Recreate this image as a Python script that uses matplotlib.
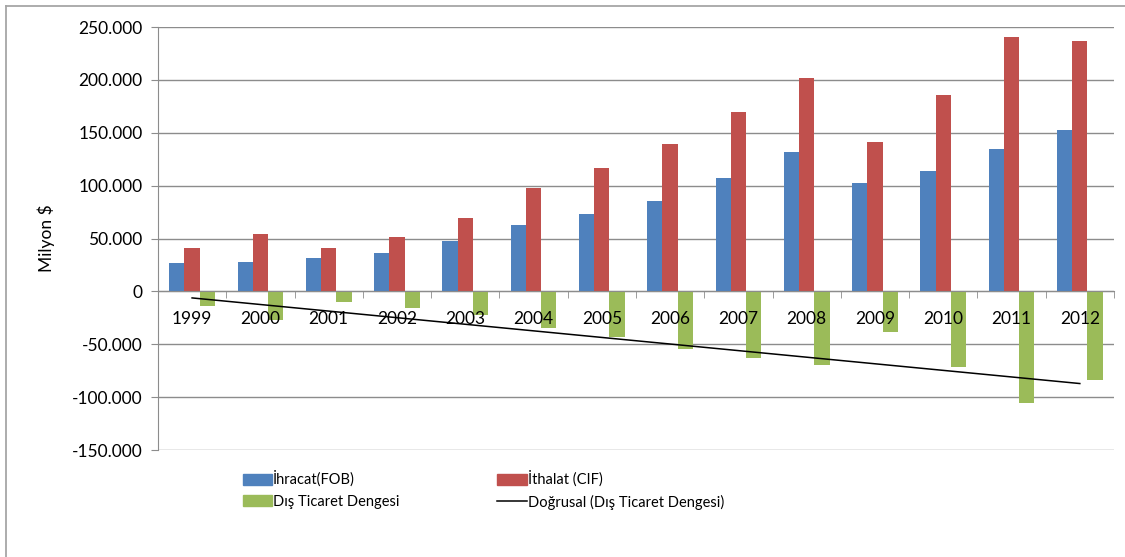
import numpy as np
import matplotlib
matplotlib.use('Agg')
import matplotlib.pyplot as plt
from matplotlib.ticker import FuncFormatter, FixedLocator
from matplotlib.patches import Patch
from matplotlib.lines import Line2D

plt.rcParams['font.family'] = ['Lato', 'DejaVu Sans']

# Turkey foreign trade, million $
years = ['1999', '2000', '2001', '2002', '2003', '2004', '2005',
         '2006', '2007', '2008', '2009', '2010', '2011', '2012']
ihracat = [26587, 27775, 31334, 36059, 47253, 63167, 73476,
           85535, 107272, 132027, 102143, 113883, 134907, 152462]
ithalat = [40671, 54503, 41399, 51554, 69340, 97540, 116774,
           139576, 170063, 201964, 140928, 185544, 240842, 236545]
denge = [-14084, -26728, -10065, -15495, -22087, -34373, -43298,
         -54041, -62791, -69936, -38786, -71661, -105935, -84083]

c_blue = '#4F81BD'
c_red = '#C0504D'
c_green = '#9BBB59'
grid_c = '#8C8C8C'

fig = plt.figure(figsize=(11.25, 5.57), dpi=100)
W, H = 1125, 557
# chart area border (only top and left edges visible in the original crop)
fig.add_artist(Line2D([6 / W, 1], [1 - 6 / H, 1 - 6 / H], color='#A6A6A6', lw=1.3))
fig.add_artist(Line2D([6 / W, 6 / W], [0, 1 - 6 / H], color='#A6A6A6', lw=1.3))

ax = fig.add_axes([0.1404, 0.1921, 0.8498, 0.7594])

x = np.arange(len(years))
w = 0.223
ax.bar(x - w, ihracat, w, color=c_blue, zorder=2)
ax.bar(x, ithalat, w, color=c_red, zorder=2)
ax.bar(x + w, denge, w, color=c_green, zorder=2)

# linear trendline of the balance (like Excel's "Doğrusal")
k, b = np.polyfit(x, denge, 1)
ax.plot(x, k * x + b, color='black', lw=1.1, zorder=3)

ax.set_xlim(-0.5, len(years) - 0.5)
ax.set_ylim(-150000, 250000)
ax.set_yticks(np.arange(-150000, 250001, 50000))
ax.yaxis.set_major_formatter(FuncFormatter(lambda v, p: f'{int(v):,}'.replace(',', '.')))
ax.yaxis.grid(True, color=grid_c, lw=1)
ax.set_axisbelow(True)
ax.xaxis.set_zorder(4)  # year labels sit on top of the bars

ax.set_xticks(x)
ax.set_xticklabels(years)
ax.xaxis.set_minor_locator(FixedLocator(np.arange(-0.5, len(years), 1)))
ax.tick_params(axis='x', which='major', length=0, pad=14, labelsize=12.5)
ax.tick_params(axis='x', which='minor', length=5, color=grid_c, direction='out')
ax.tick_params(axis='y', length=5, color=grid_c, labelsize=12.5, pad=6)

ax.spines['bottom'].set_position(('data', 0))
ax.spines['bottom'].set_color(grid_c)
ax.spines['left'].set_color(grid_c)
ax.spines['top'].set_visible(False)
ax.spines['right'].set_visible(False)

ax.set_ylabel('Milyon $', fontsize=12.5, labelpad=12)

handles = [Patch(color=c_blue), Patch(color=c_green),
           Patch(color=c_red), Line2D([], [], color='black', lw=1.1)]
labels = ['İhracat(FOB)', 'Dış Ticaret Dengesi',
          'İthalat (CIF)', 'Doğrusal (Dış Ticaret Dengesi)']
fig.legend(handles, labels, ncol=2, loc='upper left',
           bbox_to_anchor=(0.2105, 0.165), frameon=False,
           fontsize=10.5, handlelength=2.0, handleheight=0.8,
           handletextpad=0.1, columnspacing=6.7, labelspacing=0.5,
           borderaxespad=0)

fig.savefig('out.png', dpi=100)
